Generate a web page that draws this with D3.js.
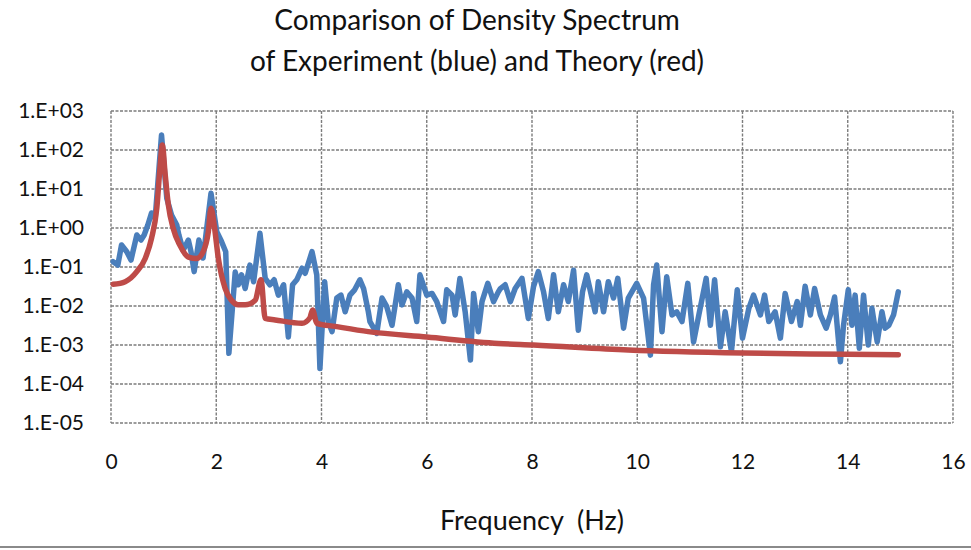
<!DOCTYPE html>
<html>
<head>
<meta charset="utf-8">
<script src="https://cdn.jsdelivr.net/npm/d3@7"></script>
<style>
  html, body { margin: 0; padding: 0; background: #fff; }
  svg { display: block; }
  text { font-family: Lato, "Open Sans", sans-serif; fill: #111; white-space: pre; }
</style>
</head>
<body>
<svg id="chart" width="971" height="550"></svg>
<script>
// ---------------- data ----------------
const titleLines = ["Comparison of Density Spectrum", "of Experiment (blue) and Theory (red)"];
const xAxisTitle = "Frequency  (Hz)";
const xTicks = [0, 2, 4, 6, 8, 10, 12, 14, 16];
const yTicks = [1e3, 1e2, 1e1, 1e0, 1e-1, 1e-2, 1e-3, 1e-4, 1e-5];
const yTickLabels = ["1.E+03", "1.E+02", "1.E+01", "1.E+00", "1.E-01", "1.E-02", "1.E-03", "1.E-04", "1.E-05"];

// Experiment (blue)
const expFreq = [0.04,0.13,0.20,0.30,0.38,0.49,0.57,0.63,0.70,0.77,0.84,0.96,1.06,1.15,1.25,1.29,1.37,1.47,1.52,1.58,
  1.67,1.75,1.90,2.01,2.10,2.18,2.24,2.36,2.42,2.48,2.55,2.64,2.71,2.83,2.93,3.02,3.10,3.18,3.28,3.37,
  3.45,3.53,3.63,3.69,3.82,3.91,3.97,4.06,4.13,4.20,4.29,4.37,4.45,4.54,4.63,4.73,4.80,4.89,4.92,5.05,
  5.15,5.24,5.34,5.46,5.53,5.62,5.72,5.81,5.87,6.00,6.10,6.19,6.32,6.38,6.48,6.54,6.63,6.73,6.83,6.89,
  6.98,7.05,7.16,7.27,7.36,7.40,7.49,7.59,7.68,7.81,7.93,8.03,8.12,8.22,8.31,8.41,8.50,8.60,8.69,8.79,
  8.88,8.96,9.04,9.14,9.20,9.26,9.36,9.45,9.55,9.63,9.74,9.83,9.99,10.12,10.25,10.31,10.37,10.47,10.56,10.66,
  10.75,10.85,10.96,11.07,11.17,11.31,11.39,11.47,11.58,11.67,11.79,11.90,12.00,12.12,12.21,12.34,12.42,12.50,12.62,12.72,
  12.81,12.93,13.04,13.10,13.19,13.29,13.37,13.48,13.59,13.67,13.75,13.86,13.92,14.01,14.08,14.14,14.22,14.30,14.39,14.46,
  14.56,14.65,14.71,14.78,14.87,14.96];
const expValue = [0.137,0.112,0.367,0.247,0.151,0.66,0.49,0.66,1.19,2.43,1.8,243,5.8,2.15,1.19,0.66,0.27,0.49,0.247,0.076,
  0.49,0.17,7.8,0.80,0.45,0.247,6.1e-4,0.074,0.035,0.063,0.028,0.112,0.042,0.73,0.051,0.035,0.047,0.019,0.035,0.0016,
  0.035,0.047,0.093,0.069,0.247,0.063,2.5e-4,0.042,0.004,0.0022,0.016,0.019,0.0071,0.019,0.026,0.047,0.028,0.0071,0.004,0.002,
  0.016,0.0096,0.0032,0.035,0.0107,0.023,0.016,0.004,0.063,0.019,0.021,0.013,0.004,0.026,0.019,0.0059,0.051,0.0071,4.1e-4,0.021,
  0.0022,0.013,0.038,0.013,0.023,0.028,0.035,0.013,0.028,0.051,0.0048,0.032,0.076,0.023,0.0048,0.063,0.0071,0.035,0.013,0.083,
  0.0024,0.023,0.063,0.016,0.0071,0.042,0.0071,0.042,0.016,0.051,0.0027,0.016,0.038,0.016,5.5e-4,0.035,0.112,0.0022,0.056,0.0059,
  0.0071,0.004,0.038,0.0012,0.0059,0.051,0.0032,0.047,9e-4,0.0071,6.8e-4,0.026,0.0015,0.0087,0.019,0.0059,0.019,0.004,0.0071,0.0015,
  0.021,0.004,0.013,0.0032,0.032,0.0059,0.028,0.0059,0.0027,0.0059,0.017,3.7e-4,0.0032,0.026,0.0032,0.019,8.2e-4,0.019,0.001,0.0087,
  0.0012,0.0071,0.0027,0.0032,0.0059,0.023];

// Theory (red)
const theoryFreq = [0.04,0.27,0.49,0.65,0.77,0.87,0.93,0.975,1.03,1.09,1.18,1.31,1.47,1.63,1.75,1.85,1.90,1.96,2.04,2.17,
  2.29,2.42,2.55,2.74,2.85,2.93,3.12,3.63,3.78,3.83,3.91,4.26,4.89,6.00,7.36,8.03,9.83,12.02,13.99,14.96];
const theoryValue = [0.036,0.042,0.076,0.166,0.54,3.2,34,135,23,3.9,1.0,0.36,0.18,0.166,0.245,0.81,3.2,1.2,0.166,0.028,
  0.014,0.0107,0.0107,0.014,0.047,0.0048,0.0044,0.0036,0.005,0.0079,0.0036,0.003,0.0022,0.0016,0.0011,0.001,0.00074,0.00062,0.00058,0.00056];

// ---------------- chart ----------------
const svg = d3.select("#chart");
const plot = { left: 111, right: 953, top: 111, bottom: 423 };

const x = d3.scaleLinear().domain([0, 16]).range([plot.left, plot.right]);
const y = d3.scaleLog().domain([1e-5, 1e3]).range([plot.bottom, plot.top]);

// title
svg.append("g").selectAll("text").data(titleLines).join("text")
  .attr("x", 477).attr("y", (d, i) => 30 + i * 41)
  .attr("text-anchor", "middle").style("font-size", "28px").text(d => d);

// gridlines
const gridColor = "#7c7c7c";
svg.append("g").selectAll("line.h").data(yTicks).join("line")
  .attr("x1", plot.left).attr("x2", plot.right)
  .attr("y1", d => y(d)).attr("y2", d => y(d))
  .attr("stroke", gridColor).attr("stroke-width", 1.4).attr("stroke-dasharray", "3,1.5");
svg.append("g").selectAll("line.v").data(xTicks).join("line")
  .attr("x1", d => x(d)).attr("x2", d => x(d))
  .attr("y1", plot.top).attr("y2", plot.bottom)
  .attr("stroke", gridColor).attr("stroke-width", 1.4).attr("stroke-dasharray", "3,1.5");

// axes labels via d3 axes (no domain / tick lines)
const yAxis = d3.axisLeft(y).tickValues(yTicks)
  .tickFormat((d, i) => yTickLabels[i]).tickSize(0).tickPadding(0);
const gy = svg.append("g").attr("transform", `translate(${plot.left - 27},0)`).call(yAxis);
gy.select(".domain").remove();
gy.selectAll("text").style("font-size", "21px").style("font-family", "Lato, sans-serif").attr("fill", "#111");

const xAxis = d3.axisBottom(x).tickValues(xTicks).tickSize(0).tickPadding(0);
const gx = svg.append("g").attr("transform", `translate(0,${plot.bottom + 31})`).call(xAxis);
gx.select(".domain").remove();
gx.selectAll("text").style("font-size", "21px").style("font-family", "Lato, sans-serif").attr("fill", "#111");

svg.append("text").attr("x", 532).attr("y", 530).attr("text-anchor", "middle")
  .style("font-size", "27px").text(xAxisTitle);

// series lines
const line = d3.line().x(d => x(d[0])).y(d => y(d[1])).curve(d3.curveLinear);
const expData = expFreq.map((f, i) => [f, expValue[i]]);
const theoryData = theoryFreq.map((f, i) => [f, theoryValue[i]]);

svg.append("path").datum(expData).attr("d", line)
  .attr("fill", "none").attr("stroke", "#4a7ebb").attr("stroke-width", 5.5)
  .attr("stroke-linejoin", "round").attr("stroke-linecap", "round");
svg.append("path").datum(theoryData).attr("d", d3.line().x(d => x(d[0])).y(d => y(d[1])).curve(d3.curveMonotoneX))
  .attr("fill", "none").attr("stroke", "#be4b48").attr("stroke-width", 5.5)
  .attr("stroke-linejoin", "round").attr("stroke-linecap", "round");

// bottom chart-area border
svg.append("line").attr("x1", 0).attr("x2", 971).attr("y1", 547).attr("y2", 547)
  .attr("stroke", "#8a8a8a").attr("stroke-width", 2);
</script>
</body>
</html>
